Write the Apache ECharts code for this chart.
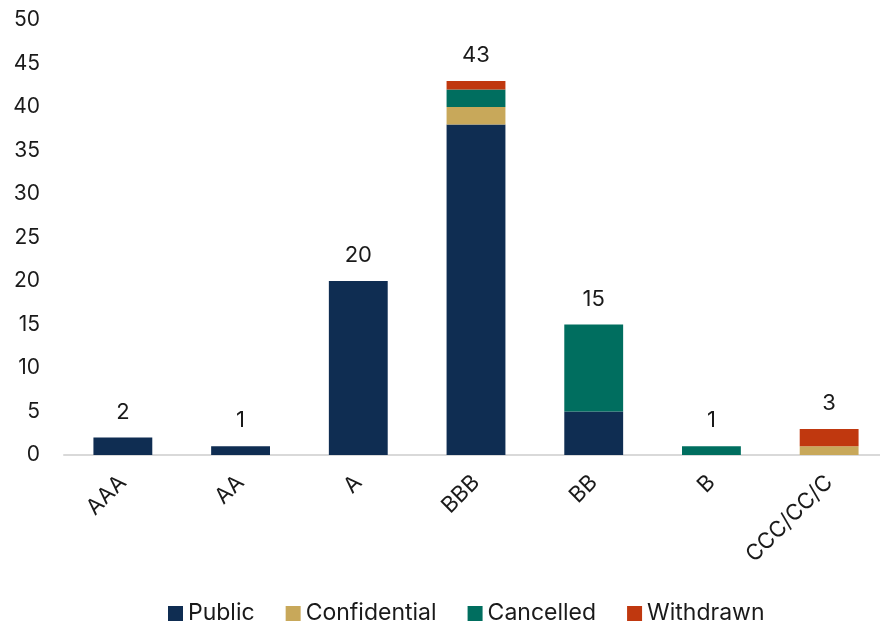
<!DOCTYPE html>
<html>
<head>
<meta charset="utf-8">
<script src="https://cdn.jsdelivr.net/npm/echarts@6/dist/echarts.min.js"></script>
<style>
  html, body { margin: 0; padding: 0; background: #fff; overflow: hidden; }
  /* the plot runs slightly past the right edge of the window */
  #chart { width: 888px; height: 625px; }
</style>
</head>
<body>
<div id="chart"></div>
<script>
// Rating categories and issue counts by status
const categories = ['AAA', 'AA', 'A', 'BBB', 'BB', 'B', 'CCC/CC/C'];
const publicCounts = [2, 1, 20, 38, 5, 0, 0];
const confidentialCounts = [0, 0, 0, 2, 0, 0, 1];
const cancelledCounts = [0, 0, 0, 2, 10, 1, 0];
const withdrawnCounts = [0, 0, 0, 1, 0, 0, 2];
const yTicks = [0, 5, 10, 15, 20, 25, 30, 35, 40, 45, 50];

const totals = categories.map((_, i) =>
  publicCounts[i] + confidentialCounts[i] + cancelledCounts[i] + withdrawnCounts[i]);

const FONT = 'Inter';
const TEXT = '#1a1a1a';

function stackSeries(name, data, color) {
  return {
    name, type: 'bar', stack: 'total', data,
    barWidth: '50%',
    itemStyle: { color },
    emphasis: { disabled: true }
  };
}

const chart = echarts.init(document.getElementById('chart'), null, { renderer: 'canvas' });
chart.setOption({
  animation: false,
  textStyle: { fontFamily: FONT },
  grid: { left: 64, right: 0, top: 20, bottom: 170, containLabel: false },
  legend: {
    bottom: 0,
    left: 168,
    padding: 0,
    itemWidth: 15, itemHeight: 15, itemGap: 31,
    icon: 'rect',
    textStyle: { fontSize: 23, color: TEXT, fontFamily: FONT },
    data: ['Public', 'Confidential', 'Cancelled', 'Withdrawn']
  },
  xAxis: {
    type: 'category',
    data: categories,
    axisLine: { lineStyle: { color: '#d9d9d9', width: 2 } },
    axisTick: { show: false },
    axisLabel: { rotate: 45, fontSize: 22, color: TEXT, margin: 24, interval: 0, fontFamily: FONT }
  },
  yAxis: {
    type: 'value',
    min: yTicks[0], max: yTicks[yTicks.length - 1], interval: 5,
    splitLine: { show: false },
    axisLine: { show: false },
    axisTick: { show: false },
    axisLabel: { fontSize: 21, color: TEXT, margin: 24, fontFamily: FONT }
  },
  series: [
    stackSeries('Public', publicCounts, '#0f2d52'),
    stackSeries('Confidential', confidentialCounts, '#c8a85a'),
    stackSeries('Cancelled', cancelledCounts, '#006e5f'),
    stackSeries('Withdrawn', withdrawnCounts, '#c0380f'),
    {
      name: 'Total', type: 'scatter', data: totals,
      symbolSize: 1, silent: true,
      itemStyle: { color: 'rgba(0,0,0,0)', opacity: 1 },
      label: {
        show: true, position: 'top', distance: 14, opacity: 1,
        fontSize: 22, color: TEXT, fontFamily: FONT,
        formatter: p => p.value
      }
    }
  ]
});
</script>
</body>
</html>
